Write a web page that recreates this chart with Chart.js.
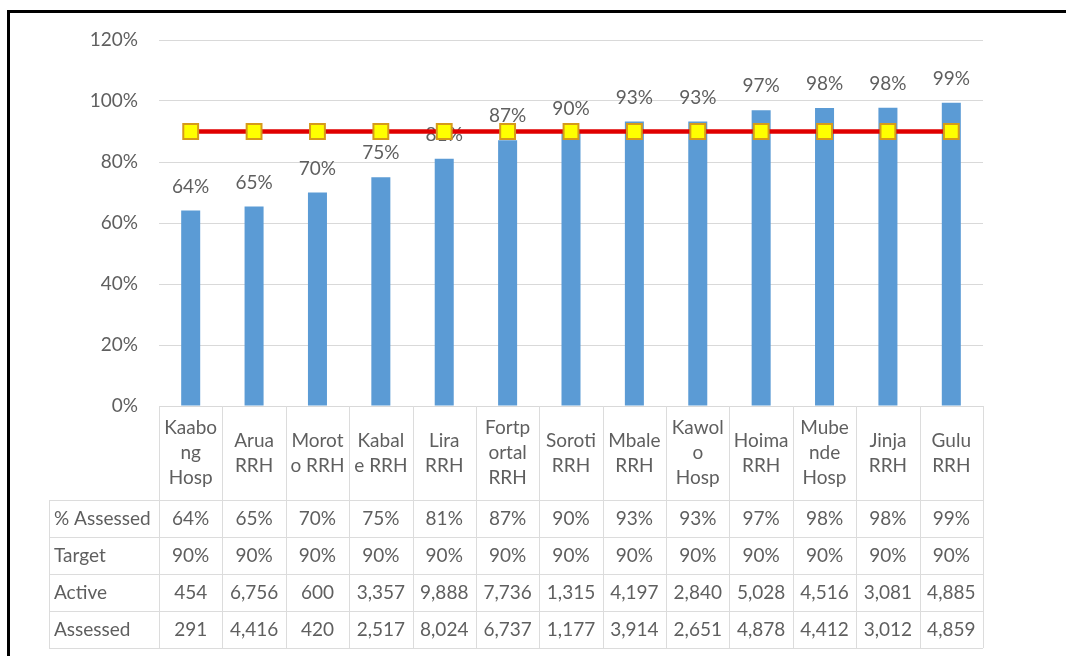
<!DOCTYPE html>
<html>
<head>
<meta charset="utf-8">
<script src="https://cdn.jsdelivr.net/npm/chart.js@4.4.1/dist/chart.umd.min.js"></script>
<style>
  html, body { margin: 0; padding: 0; background: #ffffff; }
  #wrap { position: relative; width: 1066px; height: 656px; overflow: hidden; }
  #frame { position: absolute; left: 7px; top: 10px; width: 1070px; height: 660px;
           border-top: 3px solid #000; border-left: 3px solid #000; pointer-events: none; }
  canvas { position: absolute; left: 0; top: 0; }
</style>
</head>
<body>
<div id="wrap">
  <canvas id="c" width="1066" height="656"></canvas>
  <div id="frame"></div>
</div>
<script>
// ---- data ----
const categories = ["Kaabong Hosp", "Arua RRH", "Moroto RRH", "Kabale RRH", "Lira RRH", "Fortportal RRH",
  "Soroti RRH", "Mbale RRH", "Kawolo Hosp", "Hoima RRH", "Mubende Hosp", "Jinja RRH", "Gulu RRH"];
const categoryLines = [["Kaabo", "ng", "Hosp"], ["Arua", "RRH"], ["Morot", "o RRH"], ["Kabal", "e RRH"],
  ["Lira", "RRH"], ["Fortp", "ortal", "RRH"], ["Soroti", "RRH"], ["Mbale", "RRH"], ["Kawol", "o", "Hosp"],
  ["Hoima", "RRH"], ["Mube", "nde", "Hosp"], ["Jinja", "RRH"], ["Gulu", "RRH"]];
const pctAssessed = [64.1, 65.4, 70.0, 75.0, 81.1, 87.1, 89.5, 93.3, 93.3, 97.0, 97.7, 97.8, 99.4];
const target = [90, 90, 90, 90, 90, 90, 90, 90, 90, 90, 90, 90, 90];
const active = [454, 6756, 600, 3357, 9888, 7736, 1315, 4197, 2840, 5028, 4516, 3081, 4885];
const assessed = [291, 4416, 420, 2517, 8024, 6737, 1177, 3914, 2651, 4878, 4412, 3012, 4859];
const rowLabels = ["% Assessed", "Target", "Active", "Assessed"];
const yTicks = [0, 20, 40, 60, 80, 100, 120];

// ---- styling ----
const FONT = "Lato, 'Open Sans', sans-serif";
const FSIZE = 19;
const TEXT = "#5f5f5f";
const GRID = "#d9d9d9";
const TABLE_LINE = "#dcdcdc";

const pctFmt = v => Math.round(v) + "%";
const numFmt = v => v.toLocaleString("en-US");

const barLabels = {
  id: "barLabels",
  beforeDatasetsDraw(chart) {
    const meta = chart.getDatasetMeta(0);
    const ctx = chart.ctx;
    ctx.save();
    ctx.font = FSIZE + "px " + FONT;
    ctx.fillStyle = TEXT;
    ctx.textAlign = "center";
    ctx.textBaseline = "middle";
    meta.data.forEach((bar, i) => {
      ctx.fillText(pctFmt(pctAssessed[i]), bar.x, bar.y - 24);
    });
    ctx.restore();
  }
};

const dataTable = {
  id: "dataTable",
  afterDraw(chart) {
    const ctx = chart.ctx;
    const area = chart.chartArea;
    const xs = chart.scales.x;
    const n = categories.length;
    const half = (xs.getPixelForValue(1) - xs.getPixelForValue(0)) / 2;
    const headTop = area.bottom;
    const headH = 94;
    const rowH = 37;
    const labelLeft = 49;
    const rowsTop = headTop + headH;
    const bottom = rowsTop + rowH * rowLabels.length;

    ctx.save();
    ctx.strokeStyle = TABLE_LINE;
    ctx.lineWidth = 1;
    ctx.beginPath();
    for (let i = 0; i <= n; i++) {
      const x = Math.round((i < n ? xs.getPixelForValue(i) - half : xs.getPixelForValue(n - 1) + half)) + 0.5;
      ctx.moveTo(x, headTop);
      ctx.lineTo(x, bottom);
    }
    ctx.moveTo(labelLeft + 0.5, rowsTop);
    ctx.lineTo(labelLeft + 0.5, bottom);
    const right = xs.getPixelForValue(n - 1) + half;
    for (let r = 0; r <= rowLabels.length; r++) {
      const y = Math.round(rowsTop + r * rowH) + 0.5;
      ctx.moveTo(labelLeft, y);
      ctx.lineTo(right, y);
    }
    ctx.stroke();

    ctx.font = FSIZE + "px " + FONT;
    ctx.fillStyle = TEXT;
    ctx.textBaseline = "middle";
    ctx.textAlign = "center";
    const lh = 25;
    const headMid = headTop + headH / 2;
    categoryLines.forEach((lines, i) => {
      const cx = xs.getPixelForValue(i);
      const y0 = headMid - (lines.length - 1) * lh / 2;
      lines.forEach((t, k) => ctx.fillText(t, cx, y0 + k * lh));
    });
    const rows = [pctAssessed.map(pctFmt), target.map(pctFmt), active.map(numFmt), assessed.map(numFmt)];
    rowLabels.forEach((lab, r) => {
      const cy = rowsTop + r * rowH + rowH / 2;
      ctx.textAlign = "left";
      ctx.fillText(lab, labelLeft + 5, cy);
      ctx.textAlign = "center";
      rows[r].forEach((t, i) => ctx.fillText(t, xs.getPixelForValue(i), cy));
    });
    ctx.restore();
  }
};

new Chart(document.getElementById("c"), {
  data: {
    labels: categories,
    datasets: [
      {
        type: "bar",
        label: "% Assessed",
        data: pctAssessed,
        backgroundColor: "#5b9bd5",
        categoryPercentage: 1,
        barPercentage: 0.3,
        order: 2
      },
      {
        type: "line",
        label: "Target",
        data: target,
        borderColor: "#e00000",
        borderWidth: 4.5,
        pointStyle: "rect",
        pointRadius: 10.5,
        pointBorderWidth: 2,
        pointBackgroundColor: "#ffff00",
        pointBorderColor: "#d69a1a",
        tension: 0,
        order: 1
      }
    ]
  },
  options: {
    responsive: false,
    animation: false,
    events: [],
    layout: { autoPadding: false, padding: { left: 0, top: 40, right: 83, bottom: 250 } },
    plugins: { legend: { display: false }, tooltip: { enabled: false } },
    scales: {
      x: { type: "category", offset: true, display: false },
      y: {
        min: 0, max: 120,
        afterBuildTicks: s => { s.ticks = yTicks.map(v => ({ value: v })); },
        afterFit: s => { s.width = 159; },
        border: { display: false },
        grid: { color: GRID, lineWidth: 1, drawTicks: false },
        ticks: {
          padding: 21,
          color: TEXT,
          font: { family: FONT, size: FSIZE },
          callback: v => v + "%"
        }
      }
    }
  },
  plugins: [barLabels, dataTable]
});
</script>
</body>
</html>
